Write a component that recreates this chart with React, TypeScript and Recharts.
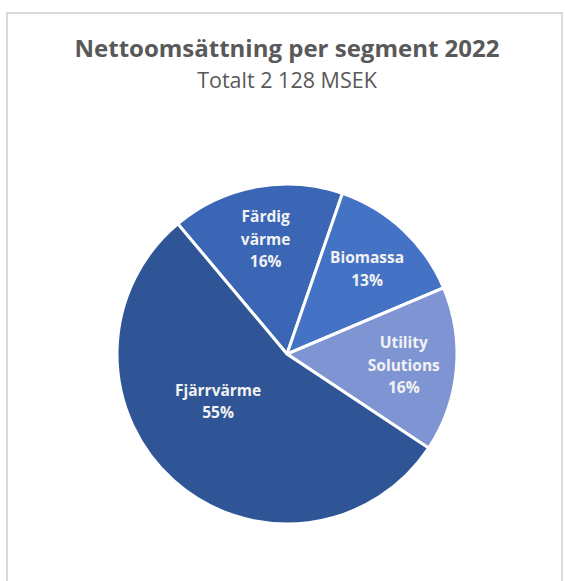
import React from "react";
import { PieChart, Pie, Cell } from "recharts";

const segments = ["Färdig värme", "Biomassa", "Utility Solutions", "Fjärrvärme"];
const salesMSEK = [349, 284, 334, 1161];
const colors = ["#3A66B5", "#4472C4", "#7F95D3", "#2F5597"];

const titleText = "Nettoomsättning per segment 2022";
const subtitleText = "Totalt 2 128 MSEK";

const data = segments.map((name, i) => ({ name, value: salesMSEK[i] }));

const RADIAN = Math.PI / 180;
const FONT = "'Open Sans', 'Noto Sans', sans-serif";

const renderLabel = (props: any) => {
  const { cx, cy, midAngle, outerRadius, percent, name } = props;
  const big = percent > 0.5;
  const ratio = big ? 0.49 : 0.69;
  const ang = (big ? midAngle - 14 : midAngle) * RADIAN;
  const r = outerRadius * ratio;
  const x = cx + r * Math.cos(ang);
  const y = cy - r * Math.sin(ang);
  const lines = [...String(name).split(" "), `${Math.round(percent * 100)}%`];
  const lh = 22.5;
  const startY = y - ((lines.length - 1) * lh) / 2;
  return (
    <text
      x={x}
      y={startY}
      fill="#F2F2F2"
      textAnchor="middle"
      dominantBaseline="central"
      fontFamily={FONT}
      fontWeight={700}
      fontSize={15.5}
    >
      {lines.map((l, i) => (
        <tspan key={i} x={x} y={startY + i * lh}>
          {l}
        </tspan>
      ))}
    </text>
  );
};

export default function App() {
  return (
    <div style={{ position: "absolute", left: 0, top: 0, width: 565, height: 581, background: "#fff", overflow: "hidden" }}>
      <svg width={565} height={581} style={{ position: "absolute", left: 0, top: 0 }}>
        <rect x={7} y={13} width={555} height={600} fill="#fff" stroke="#D9D9D9" strokeWidth={2} />
        <text x={287} y={57} textAnchor="middle" fontFamily={FONT} fontWeight={700} fontSize={24} fill="#595959">
          {titleText}
        </text>
        <text x={287} y={88} textAnchor="middle" fontFamily={FONT} fontWeight={400} fontSize={21.5} fill="#595959">
          {subtitleText}
        </text>
      </svg>
      <div style={{ position: "absolute", left: 0, top: 0 }}>
        <PieChart width={565} height={581} margin={{ top: 0, right: 0, bottom: 0, left: 0 }}>
          <Pie
            data={data}
            dataKey="value"
            nameKey="name"
            cx={287}
            cy={354}
            outerRadius={170}
            startAngle={130}
            endAngle={-230}
            stroke="#FFFFFF"
            strokeWidth={3}
            labelLine={false}
            label={renderLabel}
            isAnimationActive={false}
          >
            {data.map((d, i) => (
              <Cell key={d.name} fill={colors[i]} />
            ))}
          </Pie>
        </PieChart>
      </div>
    </div>
  );
}
